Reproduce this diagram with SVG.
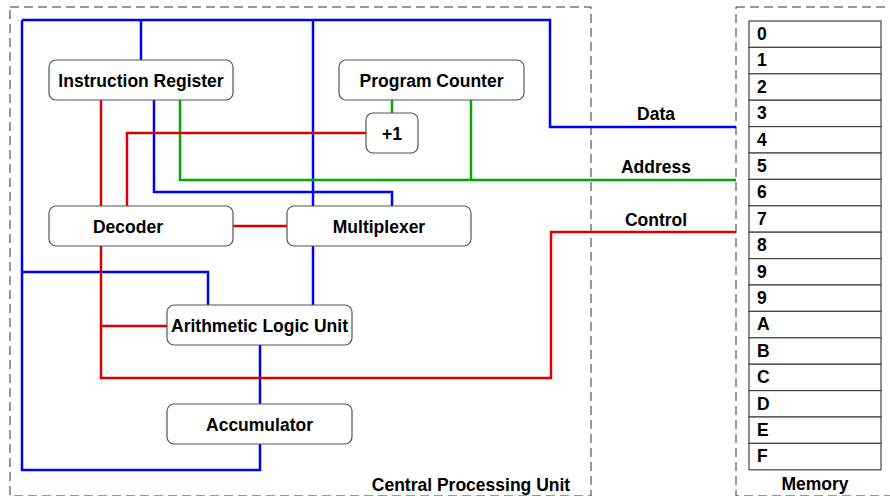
<svg xmlns="http://www.w3.org/2000/svg" width="890" height="496" viewBox="0 0 890 496">
<style>
text{font-family:"Liberation Sans",Arial,sans-serif;font-weight:bold;font-size:17.5px;fill:#000}
.node{fill:#fff;stroke:#555;stroke-width:1.2}
.mid{text-anchor:middle}
.frame{fill:none;stroke:#333;stroke-width:1;stroke-dasharray:9,5}
.b{fill:none;stroke:#0000ff;stroke-width:2.5}
.r{fill:none;stroke:#dd0000;stroke-width:2.5}
.g{fill:none;stroke:#00aa00;stroke-width:2.5}
.cell{fill:#fff;stroke:#444;stroke-width:1.2}
</style>
<rect width="890" height="496" fill="#fff"/>
<g id="cpu-frame">
<rect class="frame" x="10" y="7" width="581" height="489"/>
<text x="471" y="491" class="mid">Central Processing Unit</text>
</g>
<g id="memory-frame">
<rect class="frame" x="736" y="7" width="170" height="489"/>
<text x="815" y="490" class="mid">Memory</text>
</g>
<g id="connectors">
<polyline class="b" points="141,60 141,20"/>
<polyline class="b" points="22,20 550,20 550,127 736,127"/>
<polyline class="b" points="260,444 260,470 22,470 22,20"/>
<polyline class="b" points="313,20 313,206"/>
<polyline class="b" points="313,246 313,305"/>
<polyline class="b" points="154,100 154,192 392,192 392,206"/>
<polyline class="b" points="22,272 208,272 208,305"/>
<polyline class="b" points="260,345 260,404"/>
<polyline class="g" points="180,100 180,180 736,180"/>
<polyline class="g" points="471,100 471,180"/>
<polyline class="g" points="392,100 392,113"/>
<polyline class="r" points="101,100 101,206"/>
<polyline class="r" points="127,206 127,133 366,133"/>
<polyline class="r" points="233,226 287,226"/>
<polyline class="r" points="101,246 101,378 551,378 551,232 736,232"/>
<polyline class="r" points="101,326 167,326"/>
<text x="656" y="120" class="mid">Data</text>
<text x="656" y="173" class="mid">Address</text>
<text x="656" y="226" class="mid">Control</text>
</g>
<g id="instruction-register">
<rect class="node" x="49" y="60" width="184" height="40" rx="7"/>
<text x="141" y="87" class="mid">Instruction Register</text>
</g>
<g id="program-counter">
<rect class="node" x="339" y="60" width="185" height="40" rx="7"/>
<text x="431.5" y="87" class="mid">Program Counter</text>
</g>
<g id="plus-one">
<rect class="node" x="366" y="113" width="52" height="40" rx="7"/>
<text x="392" y="140" class="mid">+1</text>
</g>
<g id="decoder">
<rect class="node" x="49" y="206" width="184" height="40" rx="7"/>
<text x="128" y="233" class="mid">Decoder</text>
</g>
<g id="multiplexer">
<rect class="node" x="287" y="206" width="184" height="40" rx="7"/>
<text x="379" y="233" class="mid">Multiplexer</text>
</g>
<g id="alu">
<rect class="node" x="167" y="305" width="185" height="40" rx="7"/>
<text x="259.5" y="332" class="mid">Arithmetic Logic Unit</text>
</g>
<g id="accumulator">
<rect class="node" x="167" y="404" width="185" height="40" rx="7"/>
<text x="259.5" y="431" class="mid">Accumulator</text>
</g>
<g id="memory">
<rect class="cell" x="749" y="21" width="132" height="26.4"/><text x="757" y="40">0</text>
<rect class="cell" x="749" y="47.4" width="132" height="26.4"/><text x="757" y="66.4">1</text>
<rect class="cell" x="749" y="73.8" width="132" height="26.4"/><text x="757" y="92.8">2</text>
<rect class="cell" x="749" y="100.2" width="132" height="26.4"/><text x="757" y="119.2">3</text>
<rect class="cell" x="749" y="126.6" width="132" height="26.4"/><text x="757" y="145.6">4</text>
<rect class="cell" x="749" y="153" width="132" height="26.4"/><text x="757" y="172">5</text>
<rect class="cell" x="749" y="179.4" width="132" height="26.4"/><text x="757" y="198.4">6</text>
<rect class="cell" x="749" y="205.8" width="132" height="26.4"/><text x="757" y="224.8">7</text>
<rect class="cell" x="749" y="232.2" width="132" height="26.4"/><text x="757" y="251.2">8</text>
<rect class="cell" x="749" y="258.6" width="132" height="26.4"/><text x="757" y="277.6">9</text>
<rect class="cell" x="749" y="285" width="132" height="26.4"/><text x="757" y="304">9</text>
<rect class="cell" x="749" y="311.4" width="132" height="26.4"/><text x="757" y="330.4">A</text>
<rect class="cell" x="749" y="337.8" width="132" height="26.4"/><text x="757" y="356.8">B</text>
<rect class="cell" x="749" y="364.2" width="132" height="26.4"/><text x="757" y="383.2">C</text>
<rect class="cell" x="749" y="390.6" width="132" height="26.4"/><text x="757" y="409.6">D</text>
<rect class="cell" x="749" y="417" width="132" height="26.4"/><text x="757" y="436">E</text>
<rect class="cell" x="749" y="443.4" width="132" height="26.4"/><text x="757" y="462.4">F</text>
</g>
</svg>
